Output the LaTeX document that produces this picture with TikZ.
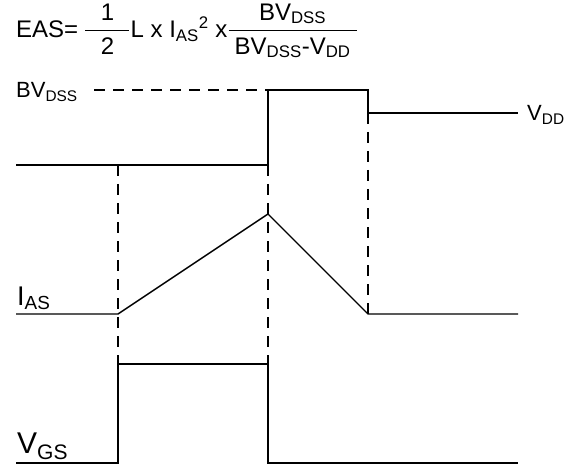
\documentclass[tikz,border=0pt]{standalone}
\usepackage{amsmath}
\usepackage{fontspec}
\setmainfont{Liberation Sans}
\usetikzlibrary{positioning}

\begin{document}
\begin{tikzpicture}[x=1pt, y=-1pt, wave/.style={line width=1.4pt}, guide/.style={line width=1.4pt,
    dash pattern=on 11pt off 8pt}, lbl/.style={inner sep=0pt, anchor=base west}]

  \useasboundingbox (0,0) rectangle (577,470);

  % formula
  \node[lbl, font=\fontsize{24}{27}\selectfont] (eas) at (16,38) {EAS=\hspace{6pt}%
    \raisebox{1pt}{$\dfrac{\text{\makebox[44pt]{1}}}{\text{2}}$}L x I\textsubscript{AS}\textsuperscript{2}
    x\raisebox{1pt}{$\dfrac{\text{\makebox[128pt]{BV\textsubscript{DSS}}}}{\text{BV\textsubscript{DSS}-V\textsubscript{DD}}}$}};

  % time points
  \coordinate (ds0) at (16,165);  \coordinate (ds1) at (268,165);
  \coordinate (ds2) at (268,90);  \coordinate (ds3) at (368,90);
  \coordinate (ds4) at (368,113); \coordinate (ds5) at (518,113);
  \coordinate (ia0) at (16,314);  \coordinate (ia1) at (118,314);
  \coordinate (ia2) at (268,214); \coordinate (ia3) at (368,314);
  \coordinate (ia4) at (518,314);
  \coordinate (gs0) at (16,463);  \coordinate (gs1) at (118,463);
  \coordinate (gs2) at (118,364); \coordinate (gs3) at (268,364);
  \coordinate (gs4) at (268,463); \coordinate (gs5) at (518,463);
  \coordinate (bvs) at (94,90);

  \node[lbl, font=\fontsize{22}{24}\selectfont] (bv) at (16,98) {BV\textsubscript{DSS}};
  \node[lbl, font=\fontsize{22}{24}\selectfont] (vdd) at (527,121) {V\textsubscript{DD}};
  \node[lbl, font=\fontsize{27}{30}\selectfont] (ias) at (17,305) {I\textsubscript{AS}};
  \node[lbl, font=\fontsize{30}{34}\selectfont] (vgs) at (17,453) {V\textsubscript{GS}};

  \draw[wave] (ds0) -- (ds1) -- (ds2) -- (ds3) -- (ds4) -- (ds5);
  \draw[wave] (ia0) -- (ia1) -- (ia2) -- (ia3) -- (ia4);
  \draw[wave] (gs0) -- (gs1) -- (gs2) -- (gs3) -- (gs4) -- (gs5);

  \draw[guide] (bvs) -- (ds2);
  \draw[guide] (ds0 -| ia1) -- (gs2);
  \draw[guide] (ds1) -- (gs3);
  \draw[guide] (ds4) -- (ia3);

\end{tikzpicture}
\end{document}
